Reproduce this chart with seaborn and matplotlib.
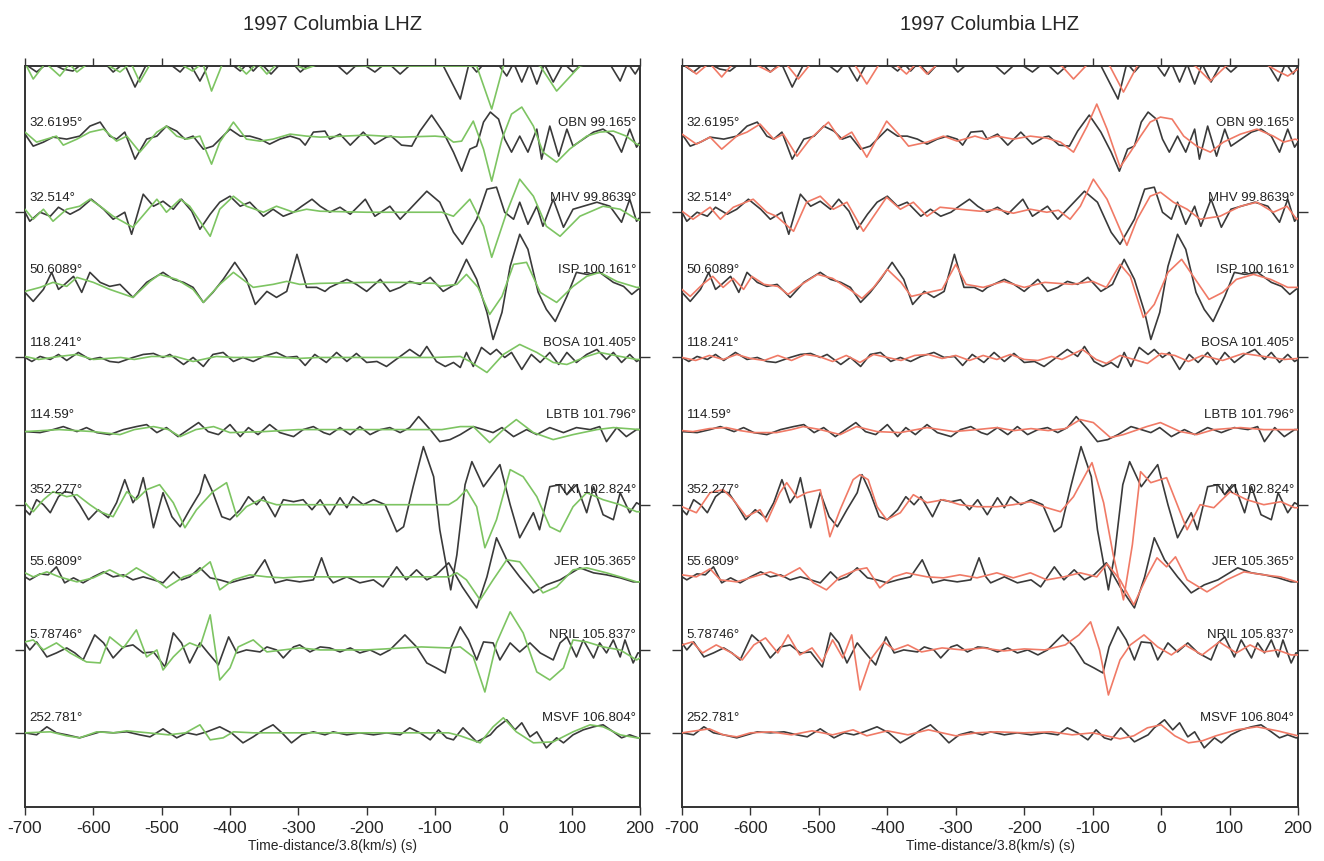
import numpy as np
import pandas as pd
import seaborn as sns
import matplotlib.pyplot as plt

# time axis: time - distance/3.8 km/s (s); amplitudes: (time, amplitude) picks per trace
# station names / distance labels
left_labels = ["32.6195°", "32.514°", "50.6089°", "118.241°", "114.59°",
               "352.277°", "55.6809°", "5.78746°", "252.781°"]
right_labels = ["OBN 99.165°", "MHV 99.8639°", "ISP 100.161°", "BOSA 101.405°",
                "LBTB 101.796°", "TIXI 102.824°", "JER 105.365°", "NRIL 105.837°",
                "MSVF 106.804°"]

# ---- observed (black) ----
obs_top = [(-700, 2), (-683, -6), (-665, 4), (-645, -3), (-630, -5), (-615, 3), (-600, 0), (-585, 4), (-571, -6),
           (-555, 3), (-539, -21), (-522, 2), (-505, 5), (-490, 3), (-473, -6), (-460, 4), (-444, -15), (-430, 3),
           (-415, 5), (-400, 3), (-385, -5), (-375, 2), (-366, -5), (-355, 3), (-340, -8), (-325, 3), (-310, 4),
           (-297, -6), (-280, 4), (-265, 3), (-250, 5), (-229, -8), (-210, 4), (-188, -6), (-170, 4), (-151, -8),
           (-130, 5), (-110, 8), (-90, 3), (-63, -33), (-50, 3), (-39, -6), (-25, 5), (-10, 4), (5, -10), (15, 3),
           (27, -16), (38, 2), (49, -18), (60, 2), (73, -16), (88, 3), (102, -6), (120, 5), (140, 5), (155, 3),
           (171, -15), (182, 3), (193, -8), (200, 0)]
obs_obn = [(-700, 3), (-688, -9), (-673, -5), (-659, 0), (-639, -2), (-620, 1), (-605, 11), (-590, 15), (-576, 1),
           (-566, -2), (-554, 5), (-539, -22), (-522, -2), (-507, 1), (-493, 11), (-478, 6), (-466, -2), (-454, 1),
           (-439, -12), (-425, -9), (-400, 8), (-385, 1), (-371, 1), (-356, -2), (-342, -7), (-327, -2), (-312, 1),
           (-298, -2), (-290, -8), (-278, 5), (-261, 6), (-254, -2), (-239, 3), (-224, -8), (-205, 5), (-188, -7),
           (-171, 0), (-164, 1), (-149, -8), (-134, -9), (-122, 6), (-105, 22), (-88, 5), (-73, -15), (-61, -34),
           (-49, -12), (-39, -9), (-29, 15), (-19, 25), (-7, 18), (2, -2), (12, -15), (24, 1), (36, -15), (49, 8),
           (56, -22), (68, 11), (81, -19), (93, 8), (102, -9), (117, -2), (132, 5), (146, 8), (161, 1), (173, -15),
           (185, 8), (195, -10), (200, -5)]
obs_mhv = [(-700, 0), (-693, -9), (-678, 0), (-663, -4), (-651, 5), (-634, -2), (-620, 3), (-603, 13), (-585, 3),
           (-571, -7), (-554, 0), (-544, -22), (-527, 18), (-512, 6), (-498, 11), (-483, 3), (-471, 13), (-456, 1),
           (-444, -17), (-429, -2), (-415, 10), (-400, 16), (-385, 6), (-371, 10), (-351, -4), (-337, 3), (-322, -4),
           (-307, 0), (-295, 6), (-280, 13), (-268, 6), (-254, 0), (-239, 5), (-224, -2), (-202, 13), (-188, -4),
           (-166, 6), (-151, -7), (-137, 3), (-112, 21), (-93, 10), (-73, -20), (-60, -32), (-39, -7), (-24, 23),
           (-10, 25), (2, 0), (15, -7), (24, 10), (36, -12), (49, 6), (58, -14), (73, 13), (88, -15), (102, 3),
           (117, 6), (137, 10), (156, 6), (173, -10), (185, 13), (195, -9), (200, -5)]
obs_isp = [(-700, -8), (-688, -17), (-673, -5), (-661, 12), (-651, -5), (-642, 0), (-629, 8), (-617, -8), (-605, 12),
           (-590, 2), (-576, -2), (-561, 0), (-542, -13), (-522, 2), (-498, 12), (-483, 5), (-468, 2), (-454, -3),
           (-439, -18), (-425, -8), (-410, 5), (-393, 22), (-376, 5), (-363, -20), (-346, -7), (-332, -13),
           (-317, -7), (-302, 30), (-288, -3), (-273, -3), (-261, -7), (-254, -3), (-229, 5), (-215, 0), (-200, -7),
           (-180, 5), (-166, -7), (-151, -3), (-137, 3), (-122, 0), (-107, 7), (-88, -7), (-71, 0), (-54, 25),
           (-39, 5), (-24, -28), (-15, -55), (-2, -28), (10, 18), (24, 50), (36, 35), (51, -8), (63, -25), (76, -37),
           (93, -12), (107, 12), (122, 10), (141, 12), (161, 2), (176, -2), (188, -10), (197, -5), (200, -4)]
obs_bosa = [(-700, 0), (-690, -4), (-678, 1), (-663, -2), (-651, 3), (-639, -3), (-622, 5), (-605, -2), (-590, 0),
            (-576, -4), (-563, -5), (-542, 0), (-527, 3), (-512, 4), (-498, 0), (-488, 3), (-468, -7), (-454, 0),
            (-439, -9), (-425, 3), (-410, 5), (-395, -4), (-381, 0), (-366, -4), (-351, 1), (-332, 5), (-317, 0),
            (-302, 1), (-290, -8), (-276, 3), (-259, -5), (-244, 5), (-229, -4), (-215, 4), (-200, -5), (-185, -4),
            (-171, -9), (-151, 1), (-137, 8), (-122, 1), (-112, 11), (-98, -4), (-85, -9), (-73, -5), (-63, -10),
            (-54, 5), (-44, -9), (-32, 10), (-19, 3), (-10, 8), (2, 0), (12, 5), (27, -12), (41, 3), (54, -5),
            (68, 5), (81, -7), (93, 5), (107, -5), (122, 3), (137, 8), (151, -2), (161, 5), (173, -5), (185, 3),
            (195, -4), (200, -2)]
obs_lbtb = [(-700, -2), (-678, -3), (-659, 0), (-644, 3), (-624, -2), (-610, 2), (-595, -3), (-576, -5), (-556, 0),
            (-537, 3), (-522, 5), (-507, -3), (-493, 2), (-476, -7), (-461, 0), (-446, 7), (-432, -2), (-417, -5),
            (-400, 5), (-385, -7), (-373, 2), (-359, -5), (-342, 5), (-327, -3), (-307, -7), (-293, 0), (-278, 3),
            (-263, -3), (-254, -5), (-239, 2), (-224, -5), (-210, 3), (-195, -5), (-180, 0), (-166, 2), (-151, -3),
            (-137, 2), (-124, 13), (-107, 0), (-93, -12), (-78, -10), (-63, -5), (-44, 3), (-29, 0), (-15, -3),
            (-2, 2), (15, -7), (34, 0), (49, -5), (68, 2), (88, -3), (107, 2), (127, 0), (141, 3), (151, -12),
            (166, 2), (180, -7), (195, 0), (200, 0)]
obs_tixi = [(-700, -5), (-693, -10), (-683, 5), (-673, 0), (-663, -8), (-651, 8), (-642, 13), (-632, 12), (-620, 0),
            (-607, -15), (-593, -5), (-578, -13), (-566, 2), (-554, 25), (-542, 2), (-534, 10), (-527, 27),
            (-520, 5), (-512, -23), (-498, 12), (-485, -12), (-473, -22), (-459, -5), (-444, 12), (-437, 30),
            (-425, 12), (-412, -12), (-400, -15), (-385, -5), (-373, 8), (-361, 0), (-351, 8), (-334, -12),
            (-322, 5), (-307, 3), (-293, 5), (-280, -5), (-268, 5), (-254, -10), (-239, 7), (-229, -3), (-220, 8),
            (-205, 0), (-190, 5), (-173, 0), (-156, -27), (-146, -22), (-132, 18), (-117, 58), (-102, 28),
            (-93, -25), (-77, -85), (-68, -50), (-56, 20), (-46, 43), (-29, 18), (-5, 40), (10, 0), (24, -33),
            (44, -8), (53, -25), (68, 18), (83, 20), (93, 10), (107, 20), (122, -8), (132, 18), (146, -10),
            (161, -15), (171, 12), (185, -8), (195, 2), (200, 0)]
obs_jer = [(-700, 0), (-693, -3), (-678, 3), (-666, 2), (-654, 10), (-642, -6), (-629, -1), (-615, -6), (-600, 0),
           (-585, 5), (-571, 0), (-556, 2), (-542, -3), (-527, 0), (-512, -3), (-498, -6), (-483, 5), (-471, -3),
           (-459, 0), (-444, 9), (-429, -1), (-415, -3), (-400, -6), (-385, -3), (-366, 0), (-349, 17), (-334, -6),
           (-317, -3), (-298, -5), (-278, -3), (-266, 19), (-256, 0), (-249, -6), (-229, 0), (-210, -6), (-190, -3),
           (-176, -10), (-156, 10), (-142, -3), (-127, 7), (-112, -3), (-98, 2), (-80, 14), (-60, -10), (-39, -31),
           (-24, 0), (-10, 39), (5, 17), (24, 0), (44, -16), (63, -8), (83, -3), (112, 9), (132, 4), (151, 2),
           (171, -1), (190, -5), (200, -5)]
obs_nril = [(-700, 7), (-693, 0), (-683, 8), (-668, -7), (-654, -3), (-639, 2), (-627, -3), (-615, -10), (-598, 15),
            (-585, 7), (-571, -8), (-556, 3), (-542, 5), (-527, -3), (-512, -2), (-495, -17), (-483, 17), (-471, 7),
            (-459, -13), (-444, 7), (-432, -3), (-417, -15), (-402, 13), (-390, -3), (-376, 0), (-356, -2),
            (-346, 3), (-332, 0), (-322, -8), (-307, 3), (-298, 5), (-283, -2), (-268, 3), (-254, 2), (-239, -2),
            (-224, 2), (-210, -3), (-195, 0), (-180, -5), (-166, 0), (-144, 15), (-127, 3), (-112, -13), (-98, -18),
            (-85, -23), (-76, 3), (-63, 23), (-51, 10), (-39, -10), (-29, 8), (-15, 7), (-5, -10), (10, 7), (24, -2),
            (39, 7), (54, -3), (73, -10), (83, 7), (93, 13), (107, -7), (117, 10), (132, -8), (141, 7), (151, -3),
            (161, 10), (171, -7), (178, 10), (190, -13), (197, -3), (200, -3)]
obs_msvf = [(-700, 0), (-683, -2), (-668, 6), (-654, 0), (-639, -2), (-620, -5), (-605, -2), (-590, 1), (-571, 0),
            (-551, 1), (-532, -2), (-517, -4), (-498, 4), (-478, -5), (-463, 0), (-449, -2), (-434, 1), (-415, 6),
            (-398, 0), (-381, -10), (-366, -4), (-351, 3), (-337, 8), (-324, 0), (-310, -10), (-295, -2), (-278, 1),
            (-261, -2), (-249, 1), (-229, -2), (-210, 0), (-190, -2), (-171, 0), (-151, -2), (-137, 5), (-122, 0),
            (-107, -7), (-95, 3), (-83, -5), (-73, -7), (-59, 5), (-39, -9), (-19, -2), (-10, 5), (5, 13), (17, 3),
            (27, 10), (39, -4), (49, 1), (63, -15), (78, -5), (88, -10), (102, -2), (117, 3), (132, 6), (146, 8),
            (161, 1), (173, -5), (185, -2), (197, -5), (200, -5)]

# ---- synthetics, left panel (green) ----
grn_top = [(-700, 3), (-688, -13), (-670, 3), (-649, -10), (-635, 2), (-624, -6), (-605, 4), (-585, 3), (-561, -6),
           (-545, 3), (-532, -16), (-515, 4), (-495, 5), (-475, 3), (-455, -5), (-440, 3), (-427, -25), (-410, 4),
           (-395, 5), (-376, -8), (-360, 3), (-346, -8), (-330, 3), (-310, 2), (-290, -3), (-270, 2), (-200, 0),
           (-100, 0), (-60, 0), (-39, 0), (-17, -43), (0, 0), (15, 8), (35, 5), (54, 0), (78, -25), (112, 0),
           (140, 5), (170, 3), (200, 2)]
grn_obn = [(-700, 5), (-683, -5), (-654, 1), (-644, -8), (-624, -2), (-605, 5), (-585, 8), (-566, -4), (-551, 1),
           (-532, -15), (-507, 5), (-493, 11), (-478, 1), (-463, -2), (-444, 1), (-427, -27), (-415, -5), (-395, 15),
           (-376, -2), (-356, -4), (-337, -2), (-312, 3), (-288, 1), (-268, 0), (-200, 2), (-150, 0), (-100, 1),
           (-83, 0), (-73, -5), (-61, -4), (-44, 16), (-29, -12), (-17, -44), (-2, -2), (12, 23), (27, 30), (44, 11),
           (58, -15), (78, -25), (97, -12), (122, 1), (141, 5), (161, 6), (180, 1), (195, -7), (200, -8)]
grn_mhv = [(-700, 3), (-688, -7), (-673, 3), (-659, -9), (-639, 3), (-620, 6), (-605, 13), (-590, 6), (-571, -4),
           (-542, -15), (-507, 13), (-493, 0), (-473, 13), (-459, 6), (-429, -24), (-415, 3), (-395, 16), (-376, 6),
           (-351, 0), (-332, 6), (-307, 0), (-288, 3), (-268, 1), (-200, 0), (-130, 0), (-90, 0), (-73, -4),
           (-49, 13), (-29, -14), (-17, -45), (5, 0), (24, 33), (44, 16), (63, -14), (83, -24), (112, -4), (146, 6),
           (171, 3), (195, -7), (200, -8)]
grn_isp = [(-700, -7), (-678, -3), (-659, 2), (-639, -2), (-624, 7), (-600, 2), (-576, -5), (-542, -13), (-517, 3),
           (-503, 10), (-478, 5), (-454, -5), (-439, -18), (-415, 0), (-395, 12), (-366, -3), (-337, 0), (-317, 3),
           (-298, 0), (-268, 1), (-200, 2), (-150, 2), (-100, 1), (-93, -2), (-68, 0), (-54, 10), (-37, -3),
           (-20, -30), (-2, -12), (15, 20), (34, 22), (54, -8), (78, -18), (102, -2), (122, 8), (141, 12), (166, 3),
           (195, -3), (200, -3)]
grn_bosa = [(-700, 1), (-680, -2), (-650, 1), (-625, 3), (-600, -2), (-560, 0), (-540, -2), (-515, 1), (-480, 1),
            (-454, -4), (-420, 1), (-395, 0), (-370, 0), (-346, 1), (-300, -1), (-270, 0), (-200, 0), (-100, 0),
            (-63, 1), (-49, -4), (-24, -15), (0, 3), (24, 13), (49, 5), (73, -5), (93, -7), (122, 1), (141, 5),
            (171, 1), (195, -2), (200, -2)]
grn_lbtb = [(-700, -2), (-650, 0), (-600, -2), (-561, -5), (-540, 0), (-512, 3), (-490, 0), (-473, -7), (-450, 0),
            (-424, 3), (-400, -3), (-350, -2), (-300, 0), (-250, 0), (-150, 0), (-90, 0), (-63, 3), (-44, 3),
            (-20, -13), (0, 0), (19, 10), (44, -3), (73, -10), (102, -5), (137, 0), (161, 2), (200, 0)]
grn_tixi = [(-700, 2), (-688, -7), (-673, 5), (-659, 13), (-639, 8), (-624, 10), (-605, 0), (-590, -7), (-571, -12),
            (-551, 13), (-537, 5), (-522, 15), (-503, 20), (-483, 2), (-466, -23), (-449, -5), (-425, 13), (-405, 22),
            (-390, -12), (-376, -2), (-356, 5), (-332, 0), (-298, 0), (-268, 0), (-200, 0), (-120, 0), (-80, 0),
            (-68, 5), (-54, 15), (-39, -2), (-27, -43), (-10, -15), (10, 35), (29, 28), (49, 8), (68, -22),
            (83, -27), (102, -2), (122, 12), (146, 5), (171, 0), (195, -7), (200, -7)]
grn_jer = [(-700, 4), (-688, 0), (-668, 5), (-650, 0), (-624, -5), (-600, -1), (-576, 7), (-556, 0), (-537, 9),
           (-512, -1), (-493, -11), (-468, 0), (-449, 4), (-429, 15), (-415, -13), (-395, -3), (-371, 2), (-346, 0),
           (-322, -1), (-298, 0), (-268, 0), (-200, 0), (-120, 0), (-80, 0), (-68, 4), (-54, -3), (-34, -23),
           (-15, -3), (5, 17), (24, 15), (44, -3), (58, -16), (78, -10), (102, 7), (122, 9), (151, 4), (176, -1),
           (195, -5), (200, -5)]
grn_nril = [(-700, 8), (-688, 10), (-673, 0), (-654, 7), (-634, -3), (-610, -12), (-590, -13), (-576, 13), (-556, 2),
            (-537, 20), (-522, -7), (-507, 0), (-498, -20), (-483, -7), (-468, 3), (-459, 7), (-444, 3), (-429, 35),
            (-415, -30), (-400, -18), (-388, 3), (-366, 10), (-346, -2), (-322, 0), (-298, 2), (-268, 0), (-200, 0),
            (-120, 3), (-80, 2), (-63, 3), (-44, -7), (-27, -42), (-10, 7), (10, 38), (29, 17), (49, -22), (68, -30),
            (88, -18), (102, 10), (122, 8), (146, 3), (171, 0), (195, -10), (200, -8)]
grn_msvf = [(-700, 0), (-663, 1), (-639, -3), (-620, -5), (-595, 1), (-570, 0), (-551, 2), (-520, 0), (-490, -2),
            (-465, 0), (-444, 8), (-429, -7), (-410, -5), (-395, 1), (-366, 0), (-320, 0), (-270, 0), (-200, 0),
            (-120, 0), (-80, 0), (-63, -3), (-34, -10), (-15, 6), (0, 15), (19, 1), (44, -10), (73, -9), (102, 1),
            (127, 8), (146, 6), (171, -2), (195, -5), (200, -5)]

# ---- synthetics, right panel (red) ----
red_top = [(-700, 3), (-679, -8), (-660, 3), (-642, -11), (-625, 3), (-600, 4), (-571, -6), (-550, 4), (-530, -13),
           (-510, 4), (-490, 5), (-470, 3), (-450, 4), (-430, -18), (-410, 4), (-390, 3), (-372, -8), (-357, 3),
           (-342, -8), (-325, 3), (-300, 2), (-250, 3), (-200, 2), (-160, 3), (-145, 0), (-128, -13), (-110, 0),
           (-95, 8), (-75, 0), (-55, -26), (-35, 0), (-15, 8), (20, 8), (50, 0), (72, -15), (95, 0), (120, 5),
           (150, 3), (170, -5), (185, -10), (200, -3)]
red_obn = [(-700, 3), (-679, -7), (-659, 0), (-642, -12), (-620, 1), (-605, 5), (-586, 13), (-566, -2), (-552, 3),
           (-532, -19), (-513, -2), (-486, 15), (-469, -2), (-452, 5), (-430, -20), (-401, 16), (-381, 1), (-369, -9),
           (-342, -5), (-318, 1), (-298, -4), (-272, 1), (-257, -2), (-240, 1), (-216, -2), (-191, 1), (-167, -1),
           (-147, -5), (-128, -15), (-108, 11), (-94, 33), (-79, 8), (-60, -30), (-45, -15), (-30, 1), (-16, 15),
           (-1, 20), (16, 18), (33, 1), (52, -9), (72, -15), (91, -5), (116, 3), (140, 8), (164, 1), (179, -5),
           (196, -2), (200, -3)]
red_mhv = [(-700, 1), (-684, -7), (-659, 5), (-644, -7), (-625, 5), (-596, 13), (-576, 0), (-562, -4), (-537, -19),
           (-518, 10), (-498, 16), (-479, 3), (-459, 10), (-435, -19), (-401, 15), (-381, 3), (-362, 10), (-342, -4),
           (-323, 5), (-294, 3), (-264, 1), (-240, 3), (-216, -1), (-191, 3), (-167, 0), (-150, 2), (-133, -7),
           (-118, 6), (-99, 33), (-79, 13), (-50, -33), (-35, -7), (-16, 16), (-1, 20), (18, 10), (38, 3), (57, -7),
           (86, -4), (116, 6), (140, 10), (164, 0), (184, 6), (198, -7), (200, -6)]
red_isp = [(-700, -5), (-688, -12), (-670, 0), (-655, 8), (-640, -3), (-625, 6), (-610, -5), (-598, 8), (-580, 0),
           (-560, -2), (-545, -10), (-525, 0), (-502, 10), (-480, 6), (-455, -5), (-437, -14), (-420, -3), (-400, 15),
           (-380, 2), (-365, -12), (-340, -8), (-320, -5), (-300, 20), (-285, 0), (-260, -3), (-230, 3), (-200, -3),
           (-170, 2), (-130, 0), (-100, 3), (-80, -3), (-60, 20), (-45, 8), (-26, -33), (-10, -20), (10, 12),
           (30, 25), (50, 5), (70, -15), (90, -8), (110, 5), (135, 10), (160, 5), (185, -3), (200, -3)]
red_bosa = [(-700, 0), (-680, -3), (-660, 2), (-640, -2), (-620, 3), (-600, -1), (-580, -3), (-560, 2), (-540, -3),
            (-520, 3), (-500, 1), (-480, -4), (-460, 2), (-440, -5), (-420, 3), (-400, 0), (-380, -3), (-360, 2),
            (-340, 3), (-320, -1), (-300, 2), (-280, -3), (-260, 2), (-240, -2), (-220, 3), (-200, -2), (-180, -3),
            (-160, 1), (-145, -2), (-130, 3), (-115, 8), (-95, -2), (-80, -6), (-60, 2), (-40, -2), (-20, -6), (0, 4),
            (20, 2), (40, -4), (60, 2), (90, -3), (120, 4), (150, 1), (180, -2), (200, -1)]
red_lbtb = [(-700, -1), (-684, -2), (-660, 1), (-635, 2), (-615, -1), (-596, -3), (-562, -3), (-540, 0), (-523, 3),
            (-498, 0), (-469, -5), (-445, 3), (-415, -2), (-381, -3), (-342, 2), (-303, -2), (-269, 0), (-240, 2),
            (-215, -1), (-190, 1), (-165, -1), (-140, 1), (-118, 10), (-99, 7), (-74, -8), (-55, -5), (-21, 3),
            (-1, 7), (28, -2), (52, -5), (77, 0), (116, 2), (150, 0), (200, 0)]
red_tixi = [(-700, -2), (-679, -8), (-659, 12), (-640, 15), (-625, 5), (-606, -12), (-586, -5), (-576, -17),
            (-557, 12), (-547, 22), (-532, 7), (-518, 12), (-498, 15), (-484, -32), (-469, -5), (-450, 25), (-440, 30),
            (-428, 25), (-415, -2), (-401, -15), (-381, -8), (-362, 10), (-342, 2), (-318, 5), (-294, 0), (-269, -2),
            (-240, -2), (-216, 0), (-191, 3), (-167, -3), (-147, -7), (-128, 8), (-101, 42), (-84, 2), (-70, -50),
            (-55, -95), (-42, -40), (-30, 33), (-15, 22), (8, 27), (38, -25), (57, 0), (77, -3), (101, 13), (125, 5),
            (150, 0), (175, 3), (195, -3), (200, -3)]
red_jer = [(-700, 2), (-679, 0), (-659, 8), (-644, -3), (-620, -5), (-596, 0), (-571, 5), (-552, 0), (-528, 9),
           (-508, -6), (-489, -13), (-469, 0), (-445, 7), (-430, 9), (-411, -11), (-391, 0), (-372, 4), (-342, 0),
           (-318, -1), (-294, 2), (-269, -1), (-240, 4), (-216, -1), (-191, 4), (-167, -3), (-142, 0), (-118, 4),
           (-94, 0), (-79, 13), (-60, -3), (-40, -28), (-21, 0), (-6, 19), (8, 10), (21, 20), (38, -3), (67, -15),
           (96, -3), (121, 5), (150, 2), (174, 0), (198, -5), (200, -5)]
red_nril = [(-700, 5), (-685, 8), (-670, -3), (-650, 5), (-630, -2), (-612, -10), (-595, 5), (-578, 12), (-560, -3),
            (-545, 15), (-528, -5), (-510, 2), (-495, -12), (-480, 10), (-465, -8), (-452, 15), (-440, -40),
            (-425, -10), (-405, 8), (-390, 0), (-370, 5), (-350, -2), (-320, 2), (-290, 0), (-260, 2), (-230, -1),
            (-200, 1), (-170, 0), (-140, 5), (-120, 15), (-103, 28), (-90, 0), (-77, -45), (-60, -10), (-45, 5),
            (-25, 15), (-5, 3), (15, -5), (35, 5), (60, -5), (85, 8), (110, -3), (130, 5), (150, -2), (170, 0),
            (190, -5), (200, -5)]
red_msvf = [(-700, 0), (-680, 2), (-660, 4), (-640, -2), (-620, -4), (-600, 0), (-570, 1), (-540, -2), (-510, 2),
            (-480, -2), (-450, 3), (-430, -3), (-400, 2), (-370, -2), (-340, 3), (-300, -3), (-270, 0), (-240, 1),
            (-200, 0), (-160, 1), (-130, -2), (-100, 0), (-80, -3), (-60, -6), (-40, -3), (-20, 5), (0, 8), (20, -3),
            (40, -10), (60, -8), (80, -3), (110, 3), (140, 6), (170, 2), (200, -3)]

observed = [obs_top, obs_obn, obs_mhv, obs_isp, obs_bosa, obs_lbtb, obs_tixi, obs_jer, obs_nril, obs_msvf]
green = [grn_top, grn_obn, grn_mhv, grn_isp, grn_bosa, grn_lbtb, grn_tixi, grn_jer, grn_nril, grn_msvf]
red = [red_top, red_obn, red_mhv, red_isp, red_bosa, red_lbtb, red_tixi, red_jer, red_nril, red_msvf]

# layout: trace baselines (in trace spacings from the top) and amplitude gain
base = [0.0, 0.978, 2.011, 3.003, 4.008, 5.0, 6.033, 7.025, 8.03, 9.17]
gain = 1 / 72.6
ymax = 10.19

sns.set_style("white")
plt.rcParams['font.family'] = ['Liberation Sans', 'DejaVu Sans']
plt.rcParams['axes.unicode_minus'] = False

fig = plt.figure(figsize=(13.24, 8.61), dpi=100)
W, H = 1324, 861
ax_l = fig.add_axes([25 / W, (H - 807) / H, 615 / W, 741 / H])
ax_r = fig.add_axes([682 / W, (H - 807) / H, 616 / W, 741 / H])

BLACK = "#3a3a3a"


def draw(ax, synth, color):
    for k in range(len(base)):
        for tr, c, z in ((observed[k], BLACK, 2), (synth[k], color, 3)):
            df = pd.DataFrame(tr, columns=["t", "a"])
            df["y"] = base[k] - df["a"] * gain
            sns.lineplot(data=df, x="t", y="y", ax=ax, color=c, linewidth=1.2,
                         sort=False, estimator=None, zorder=z,
                         solid_joinstyle="round")
    for k in range(1, len(base)):
        ax.text(-693, base[k] - 0.2, left_labels[k - 1], ha="left", va="center",
                fontsize=9.5, color="#222222", zorder=5)
        ax.text(194, base[k] - 0.2, right_labels[k - 1], ha="right", va="center",
                fontsize=9.5, color="#222222", zorder=5)
    ax.set_xlim(-700, 200)
    ax.set_ylim(ymax, 0)
    ax.set_xticks(np.arange(-700, 201, 100))
    ax.set_yticks([base[2], base[4], base[6], base[8], base[9]])
    ax.set_yticklabels([])
    ax.tick_params(axis="x", direction="out", top=True, bottom=True, length=6,
                   width=1.0, labelsize=12.5, pad=4, color="#333333")
    ax.tick_params(axis="y", direction="out", left=True, right=True, length=7,
                   width=1.0, color="#333333")
    for s in ax.spines.values():
        s.set_color("#333333")
        s.set_linewidth(1.4)
    ax.set_title("1997 Columbia LHZ", fontsize=14.5, pad=26)
    ax.set_xlabel("Time-distance/3.8(km/s) (s)", fontsize=10, labelpad=2)
    ax.set_ylabel("")


draw(ax_l, green, "#7dc462")
draw(ax_r, red, "#f07a66")

fig.savefig("out.png", dpi=100)
